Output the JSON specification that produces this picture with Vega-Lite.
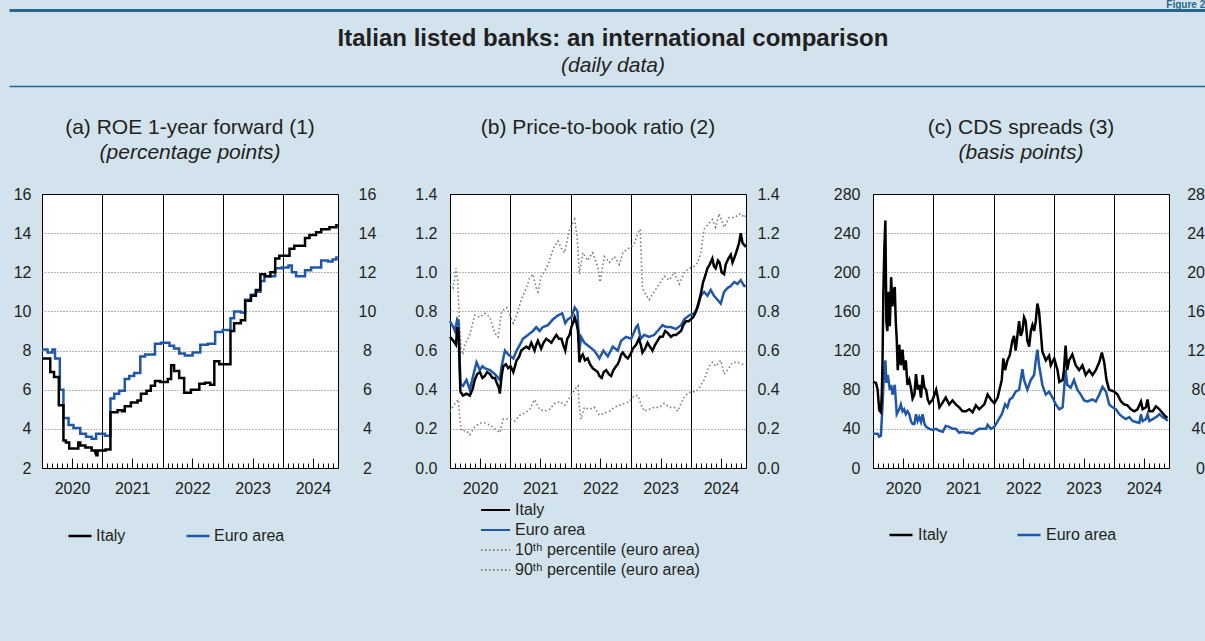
{
"$schema": "https://vega.github.io/schema/vega-lite/v6.json",
"background": "#d2e3ee",
"padding": {"left": 9, "top": 0, "right": 0, "bottom": 80},
"config": {
  "font": "Liberation Sans",
  "view": {"stroke": null},
  "axis": {"labelFont": "Liberation Sans", "labelFontSize": 16, "labelColor": "#231f20", "domain": false, "ticks": false, "grid": false},
  "legend": {"labelFont": "Liberation Sans", "labelFontSize": 16, "labelColor": "#231f20", "labelLimit": 400},
  "title": {"font": "Liberation Sans", "fontSize": 21, "fontWeight": "normal", "color": "#231f20", "subtitleFont": "Liberation Sans", "subtitleFontSize": 21, "subtitleFontStyle": "italic", "subtitleColor": "#231f20", "subtitlePadding": 4, "offset": 23, "anchor": "middle", "frame": "group"}
},
"datasets": {
"a": [
{"d":"2020-01-01","s":"Italy","v":7.6},{"d":"2020-02-20","s":"Italy","v":6.9},{"d":"2020-03-14","s":"Italy","v":6.65},{"d":"2020-04-12","s":"Italy","v":5.2},{"d":"2020-05-10","s":"Italy","v":3.4},{"d":"2020-05-25","s":"Italy","v":3.3},{"d":"2020-06-14","s":"Italy","v":3.0},{"d":"2020-08-08","s":"Italy","v":3.3},{"d":"2020-08-20","s":"Italy","v":3.15},{"d":"2020-09-20","s":"Italy","v":3.05},{"d":"2020-10-28","s":"Italy","v":2.9},{"d":"2020-11-20","s":"Italy","v":2.75},{"d":"2020-11-26","s":"Italy","v":2.65},{"d":"2020-12-03","s":"Italy","v":2.9},{"d":"2021-01-20","s":"Italy","v":2.95},{"d":"2021-02-19","s":"Italy","v":4.85},{"d":"2021-04-03","s":"Italy","v":4.95},{"d":"2021-05-01","s":"Italy","v":4.9},{"d":"2021-05-17","s":"Italy","v":5.15},{"d":"2021-06-23","s":"Italy","v":5.35},{"d":"2021-08-02","s":"Italy","v":5.45},{"d":"2021-08-23","s":"Italy","v":5.8},{"d":"2021-09-26","s":"Italy","v":5.95},{"d":"2021-10-22","s":"Italy","v":6.2},{"d":"2021-11-16","s":"Italy","v":6.45},{"d":"2021-12-18","s":"Italy","v":6.4},{"d":"2022-02-02","s":"Italy","v":6.55},{"d":"2022-02-22","s":"Italy","v":7.25},{"d":"2022-03-12","s":"Italy","v":6.95},{"d":"2022-04-12","s":"Italy","v":6.6},{"d":"2022-05-12","s":"Italy","v":5.85},{"d":"2022-06-22","s":"Italy","v":6.0},{"d":"2022-08-12","s":"Italy","v":6.3},{"d":"2022-09-15","s":"Italy","v":6.35},{"d":"2022-10-17","s":"Italy","v":6.25},{"d":"2022-11-11","s":"Italy","v":7.45},{"d":"2022-12-11","s":"Italy","v":7.3},{"d":"2023-02-17","s":"Italy","v":9.0},{"d":"2023-03-11","s":"Italy","v":9.4},{"d":"2023-04-21","s":"Italy","v":9.55},{"d":"2023-05-17","s":"Italy","v":10.55},{"d":"2023-06-21","s":"Italy","v":10.8},{"d":"2023-07-21","s":"Italy","v":11.1},{"d":"2023-08-17","s":"Italy","v":11.9},{"d":"2023-09-15","s":"Italy","v":11.8},{"d":"2023-10-17","s":"Italy","v":12.0},{"d":"2023-11-15","s":"Italy","v":12.7},{"d":"2023-12-10","s":"Italy","v":12.85},{"d":"2024-02-10","s":"Italy","v":13.2},{"d":"2024-03-10","s":"Italy","v":13.35},{"d":"2024-05-14","s":"Italy","v":13.75},{"d":"2024-06-10","s":"Italy","v":13.9},{"d":"2024-07-20","s":"Italy","v":14.05},{"d":"2024-08-20","s":"Italy","v":14.2},{"d":"2024-10-09","s":"Italy","v":14.3},{"d":"2024-11-20","s":"Italy","v":14.4},{"d":"2024-11-29","s":"Italy","v":14.4},
{"d":"2020-01-01","s":"Euro area","v":8.05},{"d":"2020-02-04","s":"Euro area","v":7.9},{"d":"2020-03-04","s":"Euro area","v":8.05},{"d":"2020-03-20","s":"Euro area","v":7.6},{"d":"2020-04-18","s":"Euro area","v":6.0},{"d":"2020-05-10","s":"Euro area","v":4.55},{"d":"2020-06-10","s":"Euro area","v":4.2},{"d":"2020-07-10","s":"Euro area","v":4.05},{"d":"2020-08-20","s":"Euro area","v":3.75},{"d":"2020-09-24","s":"Euro area","v":3.6},{"d":"2020-10-28","s":"Euro area","v":3.5},{"d":"2020-11-24","s":"Euro area","v":3.75},{"d":"2021-01-17","s":"Euro area","v":3.65},{"d":"2021-02-19","s":"Euro area","v":5.55},{"d":"2021-03-14","s":"Euro area","v":5.8},{"d":"2021-04-13","s":"Euro area","v":5.95},{"d":"2021-05-17","s":"Euro area","v":6.55},{"d":"2021-06-13","s":"Euro area","v":6.7},{"d":"2021-07-13","s":"Euro area","v":6.85},{"d":"2021-08-19","s":"Euro area","v":7.7},{"d":"2021-09-17","s":"Euro area","v":7.8},{"d":"2021-11-16","s":"Euro area","v":8.35},{"d":"2021-12-23","s":"Euro area","v":8.4},{"d":"2022-02-12","s":"Euro area","v":8.25},{"d":"2022-03-12","s":"Euro area","v":8.1},{"d":"2022-04-12","s":"Euro area","v":7.85},{"d":"2022-05-16","s":"Euro area","v":7.75},{"d":"2022-07-02","s":"Euro area","v":7.9},{"d":"2022-08-18","s":"Euro area","v":8.3},{"d":"2022-10-02","s":"Euro area","v":8.35},{"d":"2022-11-16","s":"Euro area","v":8.95},{"d":"2023-01-01","s":"Euro area","v":9.05},{"d":"2023-02-17","s":"Euro area","v":9.65},{"d":"2023-03-11","s":"Euro area","v":10.0},{"d":"2023-04-21","s":"Euro area","v":9.95},{"d":"2023-05-17","s":"Euro area","v":10.6},{"d":"2023-06-21","s":"Euro area","v":10.85},{"d":"2023-07-21","s":"Euro area","v":11.0},{"d":"2023-08-17","s":"Euro area","v":11.55},{"d":"2023-09-11","s":"Euro area","v":11.8},{"d":"2023-11-15","s":"Euro area","v":12.2},{"d":"2023-12-25","s":"Euro area","v":12.25},{"d":"2024-02-04","s":"Euro area","v":12.35},{"d":"2024-02-24","s":"Euro area","v":12.0},{"d":"2024-03-21","s":"Euro area","v":11.8},{"d":"2024-05-14","s":"Euro area","v":12.1},{"d":"2024-06-20","s":"Euro area","v":12.25},{"d":"2024-08-20","s":"Euro area","v":12.6},{"d":"2024-09-30","s":"Euro area","v":12.55},{"d":"2024-10-28","s":"Euro area","v":12.65},{"d":"2024-11-20","s":"Euro area","v":12.75},{"d":"2024-11-29","s":"Euro area","v":12.75}
],
"b": [
{"d":"2020-01-01","s":"Italy","v":0.67},{"d":"2020-01-21","s":"Italy","v":0.65},{"d":"2020-02-06","s":"Italy","v":0.63},{"d":"2020-02-14","s":"Italy","v":0.72},{"d":"2020-02-22","s":"Italy","v":0.70},{"d":"2020-03-04","s":"Italy","v":0.39},{"d":"2020-03-20","s":"Italy","v":0.37},{"d":"2020-04-10","s":"Italy","v":0.38},{"d":"2020-04-30","s":"Italy","v":0.37},{"d":"2020-05-16","s":"Italy","v":0.40},{"d":"2020-05-30","s":"Italy","v":0.45},{"d":"2020-06-14","s":"Italy","v":0.48},{"d":"2020-06-30","s":"Italy","v":0.49},{"d":"2020-07-16","s":"Italy","v":0.46},{"d":"2020-07-30","s":"Italy","v":0.47},{"d":"2020-08-13","s":"Italy","v":0.49},{"d":"2020-08-30","s":"Italy","v":0.48},{"d":"2020-09-15","s":"Italy","v":0.46},{"d":"2020-09-29","s":"Italy","v":0.46},{"d":"2020-10-13","s":"Italy","v":0.43},{"d":"2020-10-23","s":"Italy","v":0.41},{"d":"2020-10-29","s":"Italy","v":0.38},{"d":"2020-11-09","s":"Italy","v":0.47},{"d":"2020-11-19","s":"Italy","v":0.52},{"d":"2020-12-05","s":"Italy","v":0.53},{"d":"2020-12-19","s":"Italy","v":0.51},{"d":"2021-01-02","s":"Italy","v":0.52},{"d":"2021-01-19","s":"Italy","v":0.49},{"d":"2021-01-29","s":"Italy","v":0.52},{"d":"2021-02-08","s":"Italy","v":0.55},{"d":"2021-02-24","s":"Italy","v":0.57},{"d":"2021-03-08","s":"Italy","v":0.60},{"d":"2021-03-22","s":"Italy","v":0.61},{"d":"2021-04-08","s":"Italy","v":0.62},{"d":"2021-04-24","s":"Italy","v":0.61},{"d":"2021-05-08","s":"Italy","v":0.64},{"d":"2021-05-18","s":"Italy","v":0.62},{"d":"2021-05-28","s":"Italy","v":0.60},{"d":"2021-06-07","s":"Italy","v":0.63},{"d":"2021-06-17","s":"Italy","v":0.65},{"d":"2021-06-27","s":"Italy","v":0.63},{"d":"2021-07-07","s":"Italy","v":0.61},{"d":"2021-07-21","s":"Italy","v":0.64},{"d":"2021-08-07","s":"Italy","v":0.66},{"d":"2021-08-23","s":"Italy","v":0.65},{"d":"2021-09-07","s":"Italy","v":0.64},{"d":"2021-09-21","s":"Italy","v":0.66},{"d":"2021-10-07","s":"Italy","v":0.68},{"d":"2021-10-23","s":"Italy","v":0.66},{"d":"2021-11-07","s":"Italy","v":0.66},{"d":"2021-11-17","s":"Italy","v":0.63},{"d":"2021-11-30","s":"Italy","v":0.60},{"d":"2021-12-12","s":"Italy","v":0.66},{"d":"2021-12-26","s":"Italy","v":0.68},{"d":"2022-01-06","s":"Italy","v":0.72},{"d":"2022-01-16","s":"Italy","v":0.74},{"d":"2022-01-26","s":"Italy","v":0.77},{"d":"2022-02-06","s":"Italy","v":0.74},{"d":"2022-02-15","s":"Italy","v":0.70},{"d":"2022-02-24","s":"Italy","v":0.54},{"d":"2022-03-06","s":"Italy","v":0.57},{"d":"2022-03-16","s":"Italy","v":0.58},{"d":"2022-03-30","s":"Italy","v":0.55},{"d":"2022-04-15","s":"Italy","v":0.56},{"d":"2022-04-29","s":"Italy","v":0.53},{"d":"2022-05-15","s":"Italy","v":0.51},{"d":"2022-05-31","s":"Italy","v":0.50},{"d":"2022-06-15","s":"Italy","v":0.49},{"d":"2022-06-25","s":"Italy","v":0.47},{"d":"2022-07-09","s":"Italy","v":0.46},{"d":"2022-07-21","s":"Italy","v":0.49},{"d":"2022-08-05","s":"Italy","v":0.50},{"d":"2022-08-21","s":"Italy","v":0.48},{"d":"2022-09-04","s":"Italy","v":0.47},{"d":"2022-09-18","s":"Italy","v":0.50},{"d":"2022-10-04","s":"Italy","v":0.52},{"d":"2022-10-14","s":"Italy","v":0.53},{"d":"2022-10-24","s":"Italy","v":0.55},{"d":"2022-11-04","s":"Italy","v":0.58},{"d":"2022-11-14","s":"Italy","v":0.59},{"d":"2022-11-30","s":"Italy","v":0.57},{"d":"2022-12-14","s":"Italy","v":0.56},{"d":"2022-12-30","s":"Italy","v":0.58},{"d":"2023-01-14","s":"Italy","v":0.61},{"d":"2023-02-03","s":"Italy","v":0.63},{"d":"2023-02-19","s":"Italy","v":0.66},{"d":"2023-03-03","s":"Italy","v":0.63},{"d":"2023-03-13","s":"Italy","v":0.59},{"d":"2023-03-29","s":"Italy","v":0.61},{"d":"2023-04-13","s":"Italy","v":0.64},{"d":"2023-04-27","s":"Italy","v":0.62},{"d":"2023-05-13","s":"Italy","v":0.60},{"d":"2023-05-29","s":"Italy","v":0.63},{"d":"2023-06-13","s":"Italy","v":0.65},{"d":"2023-06-27","s":"Italy","v":0.67},{"d":"2023-07-13","s":"Italy","v":0.67},{"d":"2023-07-29","s":"Italy","v":0.70},{"d":"2023-08-13","s":"Italy","v":0.69},{"d":"2023-09-02","s":"Italy","v":0.67},{"d":"2023-09-16","s":"Italy","v":0.68},{"d":"2023-10-02","s":"Italy","v":0.68},{"d":"2023-10-18","s":"Italy","v":0.69},{"d":"2023-11-02","s":"Italy","v":0.70},{"d":"2023-11-16","s":"Italy","v":0.73},{"d":"2023-12-02","s":"Italy","v":0.75},{"d":"2023-12-18","s":"Italy","v":0.75},{"d":"2024-01-01","s":"Italy","v":0.76},{"d":"2024-01-15","s":"Italy","v":0.77},{"d":"2024-02-01","s":"Italy","v":0.80},{"d":"2024-02-15","s":"Italy","v":0.84},{"d":"2024-03-01","s":"Italy","v":0.89},{"d":"2024-03-15","s":"Italy","v":0.95},{"d":"2024-03-27","s":"Italy","v":0.98},{"d":"2024-04-10","s":"Italy","v":1.02},{"d":"2024-04-24","s":"Italy","v":1.04},{"d":"2024-05-10","s":"Italy","v":1.07},{"d":"2024-05-20","s":"Italy","v":1.03},{"d":"2024-05-30","s":"Italy","v":1.02},{"d":"2024-06-13","s":"Italy","v":1.06},{"d":"2024-06-23","s":"Italy","v":1.05},{"d":"2024-07-05","s":"Italy","v":1.00},{"d":"2024-07-20","s":"Italy","v":0.99},{"d":"2024-07-30","s":"Italy","v":1.04},{"d":"2024-08-15","s":"Italy","v":1.07},{"d":"2024-08-30","s":"Italy","v":1.09},{"d":"2024-09-09","s":"Italy","v":1.05},{"d":"2024-09-23","s":"Italy","v":1.08},{"d":"2024-10-05","s":"Italy","v":1.11},{"d":"2024-10-19","s":"Italy","v":1.15},{"d":"2024-10-29","s":"Italy","v":1.20},{"d":"2024-11-09","s":"Italy","v":1.15},{"d":"2024-11-19","s":"Italy","v":1.14},{"d":"2024-11-29","s":"Italy","v":1.13},
{"d":"2020-01-01","s":"Euro area","v":0.75},{"d":"2020-01-21","s":"Euro area","v":0.72},{"d":"2020-01-31","s":"Euro area","v":0.70},{"d":"2020-02-14","s":"Euro area","v":0.76},{"d":"2020-02-22","s":"Euro area","v":0.75},{"d":"2020-03-04","s":"Euro area","v":0.43},{"d":"2020-03-20","s":"Euro area","v":0.42},{"d":"2020-04-10","s":"Euro area","v":0.45},{"d":"2020-04-30","s":"Euro area","v":0.40},{"d":"2020-05-20","s":"Euro area","v":0.47},{"d":"2020-06-10","s":"Euro area","v":0.54},{"d":"2020-06-30","s":"Euro area","v":0.50},{"d":"2020-07-16","s":"Euro area","v":0.52},{"d":"2020-07-30","s":"Euro area","v":0.51},{"d":"2020-08-30","s":"Euro area","v":0.50},{"d":"2020-09-29","s":"Euro area","v":0.48},{"d":"2020-10-19","s":"Euro area","v":0.46},{"d":"2020-10-29","s":"Euro area","v":0.45},{"d":"2020-11-09","s":"Euro area","v":0.52},{"d":"2020-11-29","s":"Euro area","v":0.60},{"d":"2020-12-19","s":"Euro area","v":0.58},{"d":"2021-01-19","s":"Euro area","v":0.56},{"d":"2021-02-08","s":"Euro area","v":0.60},{"d":"2021-02-28","s":"Euro area","v":0.63},{"d":"2021-03-18","s":"Euro area","v":0.66},{"d":"2021-04-18","s":"Euro area","v":0.68},{"d":"2021-05-18","s":"Euro area","v":0.70},{"d":"2021-06-07","s":"Euro area","v":0.72},{"d":"2021-06-27","s":"Euro area","v":0.70},{"d":"2021-07-17","s":"Euro area","v":0.72},{"d":"2021-08-17","s":"Euro area","v":0.73},{"d":"2021-09-17","s":"Euro area","v":0.76},{"d":"2021-10-17","s":"Euro area","v":0.78},{"d":"2021-11-12","s":"Euro area","v":0.79},{"d":"2021-11-30","s":"Euro area","v":0.74},{"d":"2021-12-16","s":"Euro area","v":0.76},{"d":"2022-01-06","s":"Euro area","v":0.77},{"d":"2022-01-26","s":"Euro area","v":0.82},{"d":"2022-02-12","s":"Euro area","v":0.80},{"d":"2022-02-24","s":"Euro area","v":0.60},{"d":"2022-03-06","s":"Euro area","v":0.67},{"d":"2022-03-26","s":"Euro area","v":0.64},{"d":"2022-04-25","s":"Euro area","v":0.62},{"d":"2022-05-25","s":"Euro area","v":0.60},{"d":"2022-06-25","s":"Euro area","v":0.56},{"d":"2022-07-19","s":"Euro area","v":0.60},{"d":"2022-08-15","s":"Euro area","v":0.57},{"d":"2022-09-14","s":"Euro area","v":0.62},{"d":"2022-10-14","s":"Euro area","v":0.60},{"d":"2022-11-04","s":"Euro area","v":0.65},{"d":"2022-12-04","s":"Euro area","v":0.67},{"d":"2023-01-04","s":"Euro area","v":0.66},{"d":"2023-02-03","s":"Euro area","v":0.72},{"d":"2023-02-13","s":"Euro area","v":0.73},{"d":"2023-03-03","s":"Euro area","v":0.66},{"d":"2023-03-23","s":"Euro area","v":0.68},{"d":"2023-04-23","s":"Euro area","v":0.67},{"d":"2023-05-23","s":"Euro area","v":0.68},{"d":"2023-06-13","s":"Euro area","v":0.70},{"d":"2023-07-13","s":"Euro area","v":0.73},{"d":"2023-08-03","s":"Euro area","v":0.72},{"d":"2023-09-02","s":"Euro area","v":0.72},{"d":"2023-10-02","s":"Euro area","v":0.71},{"d":"2023-11-02","s":"Euro area","v":0.73},{"d":"2023-11-22","s":"Euro area","v":0.76},{"d":"2023-12-22","s":"Euro area","v":0.78},{"d":"2024-01-21","s":"Euro area","v":0.79},{"d":"2024-02-11","s":"Euro area","v":0.82},{"d":"2024-03-01","s":"Euro area","v":0.88},{"d":"2024-03-21","s":"Euro area","v":0.90},{"d":"2024-04-10","s":"Euro area","v":0.88},{"d":"2024-04-30","s":"Euro area","v":0.91},{"d":"2024-05-20","s":"Euro area","v":0.88},{"d":"2024-06-10","s":"Euro area","v":0.86},{"d":"2024-06-30","s":"Euro area","v":0.84},{"d":"2024-07-20","s":"Euro area","v":0.90},{"d":"2024-08-10","s":"Euro area","v":0.92},{"d":"2024-08-30","s":"Euro area","v":0.93},{"d":"2024-09-19","s":"Euro area","v":0.95},{"d":"2024-10-09","s":"Euro area","v":0.94},{"d":"2024-10-29","s":"Euro area","v":0.96},{"d":"2024-11-19","s":"Euro area","v":0.93},{"d":"2024-11-29","s":"Euro area","v":0.93},
{"d":"2020-01-01","s":"90ᵗʰ percentile (euro area)","v":0.94},{"d":"2020-01-21","s":"90ᵗʰ percentile (euro area)","v":0.92},{"d":"2020-02-06","s":"90ᵗʰ percentile (euro area)","v":1.02},{"d":"2020-02-16","s":"90ᵗʰ percentile (euro area)","v":0.96},{"d":"2020-03-01","s":"90ᵗʰ percentile (euro area)","v":0.70},{"d":"2020-03-10","s":"90ᵗʰ percentile (euro area)","v":0.60},{"d":"2020-03-20","s":"90ᵗʰ percentile (euro area)","v":0.58},{"d":"2020-03-30","s":"90ᵗʰ percentile (euro area)","v":0.63},{"d":"2020-04-30","s":"90ᵗʰ percentile (euro area)","v":0.68},{"d":"2020-05-30","s":"90ᵗʰ percentile (euro area)","v":0.78},{"d":"2020-06-30","s":"90ᵗʰ percentile (euro area)","v":0.77},{"d":"2020-07-30","s":"90ᵗʰ percentile (euro area)","v":0.79},{"d":"2020-08-30","s":"90ᵗʰ percentile (euro area)","v":0.77},{"d":"2020-09-29","s":"90ᵗʰ percentile (euro area)","v":0.69},{"d":"2020-10-19","s":"90ᵗʰ percentile (euro area)","v":0.67},{"d":"2020-11-09","s":"90ᵗʰ percentile (euro area)","v":0.80},{"d":"2020-12-09","s":"90ᵗʰ percentile (euro area)","v":0.82},{"d":"2020-12-29","s":"90ᵗʰ percentile (euro area)","v":0.78},{"d":"2021-01-19","s":"90ᵗʰ percentile (euro area)","v":0.74},{"d":"2021-02-08","s":"90ᵗʰ percentile (euro area)","v":0.78},{"d":"2021-03-08","s":"90ᵗʰ percentile (euro area)","v":0.86},{"d":"2021-04-08","s":"90ᵗʰ percentile (euro area)","v":0.92},{"d":"2021-04-28","s":"90ᵗʰ percentile (euro area)","v":0.97},{"d":"2021-05-18","s":"90ᵗʰ percentile (euro area)","v":0.99},{"d":"2021-06-07","s":"90ᵗʰ percentile (euro area)","v":0.92},{"d":"2021-06-17","s":"90ᵗʰ percentile (euro area)","v":0.90},{"d":"2021-07-07","s":"90ᵗʰ percentile (euro area)","v":0.98},{"d":"2021-08-07","s":"90ᵗʰ percentile (euro area)","v":1.02},{"d":"2021-08-27","s":"90ᵗʰ percentile (euro area)","v":1.06},{"d":"2021-09-17","s":"90ᵗʰ percentile (euro area)","v":1.12},{"d":"2021-10-17","s":"90ᵗʰ percentile (euro area)","v":1.16},{"d":"2021-11-07","s":"90ᵗʰ percentile (euro area)","v":1.12},{"d":"2021-11-26","s":"90ᵗʰ percentile (euro area)","v":1.10},{"d":"2021-12-26","s":"90ᵗʰ percentile (euro area)","v":1.22},{"d":"2022-01-26","s":"90ᵗʰ percentile (euro area)","v":1.27},{"d":"2022-02-10","s":"90ᵗʰ percentile (euro area)","v":1.18},{"d":"2022-02-24","s":"90ᵗʰ percentile (euro area)","v":0.99},{"d":"2022-03-16","s":"90ᵗʰ percentile (euro area)","v":1.10},{"d":"2022-04-15","s":"90ᵗʰ percentile (euro area)","v":1.06},{"d":"2022-05-15","s":"90ᵗʰ percentile (euro area)","v":1.10},{"d":"2022-06-15","s":"90ᵗʰ percentile (euro area)","v":1.03},{"d":"2022-06-29","s":"90ᵗʰ percentile (euro area)","v":0.95},{"d":"2022-07-25","s":"90ᵗʰ percentile (euro area)","v":1.08},{"d":"2022-08-25","s":"90ᵗʰ percentile (euro area)","v":1.05},{"d":"2022-09-24","s":"90ᵗʰ percentile (euro area)","v":1.08},{"d":"2022-10-24","s":"90ᵗʰ percentile (euro area)","v":1.04},{"d":"2022-11-14","s":"90ᵗʰ percentile (euro area)","v":1.10},{"d":"2022-12-14","s":"90ᵗʰ percentile (euro area)","v":1.12},{"d":"2023-01-04","s":"90ᵗʰ percentile (euro area)","v":1.13},{"d":"2023-01-24","s":"90ᵗʰ percentile (euro area)","v":1.15},{"d":"2023-02-13","s":"90ᵗʰ percentile (euro area)","v":1.20},{"d":"2023-02-28","s":"90ᵗʰ percentile (euro area)","v":1.22},{"d":"2023-03-13","s":"90ᵗʰ percentile (euro area)","v":0.92},{"d":"2023-03-23","s":"90ᵗʰ percentile (euro area)","v":0.90},{"d":"2023-04-23","s":"90ᵗʰ percentile (euro area)","v":0.86},{"d":"2023-05-23","s":"90ᵗʰ percentile (euro area)","v":0.90},{"d":"2023-06-23","s":"90ᵗʰ percentile (euro area)","v":0.94},{"d":"2023-07-23","s":"90ᵗʰ percentile (euro area)","v":0.98},{"d":"2023-08-23","s":"90ᵗʰ percentile (euro area)","v":0.96},{"d":"2023-09-22","s":"90ᵗʰ percentile (euro area)","v":1.00},{"d":"2023-10-22","s":"90ᵗʰ percentile (euro area)","v":0.94},{"d":"2023-11-22","s":"90ᵗʰ percentile (euro area)","v":1.00},{"d":"2023-12-22","s":"90ᵗʰ percentile (euro area)","v":1.02},{"d":"2024-01-21","s":"90ᵗʰ percentile (euro area)","v":1.03},{"d":"2024-02-11","s":"90ᵗʰ percentile (euro area)","v":1.05},{"d":"2024-03-01","s":"90ᵗʰ percentile (euro area)","v":1.10},{"d":"2024-03-21","s":"90ᵗʰ percentile (euro area)","v":1.22},{"d":"2024-04-20","s":"90ᵗʰ percentile (euro area)","v":1.25},{"d":"2024-05-10","s":"90ᵗʰ percentile (euro area)","v":1.27},{"d":"2024-05-30","s":"90ᵗʰ percentile (euro area)","v":1.23},{"d":"2024-06-20","s":"90ᵗʰ percentile (euro area)","v":1.30},{"d":"2024-07-20","s":"90ᵗʰ percentile (euro area)","v":1.23},{"d":"2024-08-20","s":"90ᵗʰ percentile (euro area)","v":1.28},{"d":"2024-09-19","s":"90ᵗʰ percentile (euro area)","v":1.28},{"d":"2024-10-29","s":"90ᵗʰ percentile (euro area)","v":1.30},{"d":"2024-11-19","s":"90ᵗʰ percentile (euro area)","v":1.28},{"d":"2024-11-29","s":"90ᵗʰ percentile (euro area)","v":1.29},
{"d":"2020-01-01","s":"10ᵗʰ percentile (euro area)","v":0.29},{"d":"2020-01-31","s":"10ᵗʰ percentile (euro area)","v":0.33},{"d":"2020-02-20","s":"10ᵗʰ percentile (euro area)","v":0.35},{"d":"2020-03-01","s":"10ᵗʰ percentile (euro area)","v":0.25},{"d":"2020-03-10","s":"10ᵗʰ percentile (euro area)","v":0.19},{"d":"2020-04-10","s":"10ᵗʰ percentile (euro area)","v":0.19},{"d":"2020-04-30","s":"10ᵗʰ percentile (euro area)","v":0.17},{"d":"2020-05-30","s":"10ᵗʰ percentile (euro area)","v":0.21},{"d":"2020-06-30","s":"10ᵗʰ percentile (euro area)","v":0.23},{"d":"2020-07-30","s":"10ᵗʰ percentile (euro area)","v":0.23},{"d":"2020-08-30","s":"10ᵗʰ percentile (euro area)","v":0.22},{"d":"2020-09-29","s":"10ᵗʰ percentile (euro area)","v":0.20},{"d":"2020-10-29","s":"10ᵗʰ percentile (euro area)","v":0.18},{"d":"2020-11-19","s":"10ᵗʰ percentile (euro area)","v":0.25},{"d":"2020-12-29","s":"10ᵗʰ percentile (euro area)","v":0.25},{"d":"2021-01-29","s":"10ᵗʰ percentile (euro area)","v":0.24},{"d":"2021-02-28","s":"10ᵗʰ percentile (euro area)","v":0.27},{"d":"2021-03-28","s":"10ᵗʰ percentile (euro area)","v":0.28},{"d":"2021-04-28","s":"10ᵗʰ percentile (euro area)","v":0.30},{"d":"2021-05-28","s":"10ᵗʰ percentile (euro area)","v":0.35},{"d":"2021-06-27","s":"10ᵗʰ percentile (euro area)","v":0.30},{"d":"2021-07-27","s":"10ᵗʰ percentile (euro area)","v":0.29},{"d":"2021-08-27","s":"10ᵗʰ percentile (euro area)","v":0.30},{"d":"2021-09-27","s":"10ᵗʰ percentile (euro area)","v":0.33},{"d":"2021-10-27","s":"10ᵗʰ percentile (euro area)","v":0.34},{"d":"2021-11-26","s":"10ᵗʰ percentile (euro area)","v":0.32},{"d":"2021-12-26","s":"10ᵗʰ percentile (euro area)","v":0.36},{"d":"2022-01-26","s":"10ᵗʰ percentile (euro area)","v":0.40},{"d":"2022-02-15","s":"10ᵗʰ percentile (euro area)","v":0.42},{"d":"2022-02-24","s":"10ᵗʰ percentile (euro area)","v":0.30},{"d":"2022-03-06","s":"10ᵗʰ percentile (euro area)","v":0.25},{"d":"2022-03-26","s":"10ᵗʰ percentile (euro area)","v":0.31},{"d":"2022-04-25","s":"10ᵗʰ percentile (euro area)","v":0.30},{"d":"2022-05-25","s":"10ᵗʰ percentile (euro area)","v":0.31},{"d":"2022-06-25","s":"10ᵗʰ percentile (euro area)","v":0.27},{"d":"2022-07-25","s":"10ᵗʰ percentile (euro area)","v":0.28},{"d":"2022-08-25","s":"10ᵗʰ percentile (euro area)","v":0.29},{"d":"2022-09-24","s":"10ᵗʰ percentile (euro area)","v":0.31},{"d":"2022-10-24","s":"10ᵗʰ percentile (euro area)","v":0.32},{"d":"2022-11-24","s":"10ᵗʰ percentile (euro area)","v":0.33},{"d":"2022-12-24","s":"10ᵗʰ percentile (euro area)","v":0.34},{"d":"2023-01-24","s":"10ᵗʰ percentile (euro area)","v":0.37},{"d":"2023-02-13","s":"10ᵗʰ percentile (euro area)","v":0.37},{"d":"2023-03-03","s":"10ᵗʰ percentile (euro area)","v":0.33},{"d":"2023-03-23","s":"10ᵗʰ percentile (euro area)","v":0.29},{"d":"2023-04-23","s":"10ᵗʰ percentile (euro area)","v":0.30},{"d":"2023-05-23","s":"10ᵗʰ percentile (euro area)","v":0.31},{"d":"2023-06-23","s":"10ᵗʰ percentile (euro area)","v":0.31},{"d":"2023-07-23","s":"10ᵗʰ percentile (euro area)","v":0.33},{"d":"2023-08-23","s":"10ᵗʰ percentile (euro area)","v":0.31},{"d":"2023-09-22","s":"10ᵗʰ percentile (euro area)","v":0.31},{"d":"2023-10-12","s":"10ᵗʰ percentile (euro area)","v":0.29},{"d":"2023-11-02","s":"10ᵗʰ percentile (euro area)","v":0.33},{"d":"2023-11-27","s":"10ᵗʰ percentile (euro area)","v":0.37},{"d":"2024-01-01","s":"10ᵗʰ percentile (euro area)","v":0.39},{"d":"2024-01-31","s":"10ᵗʰ percentile (euro area)","v":0.39},{"d":"2024-02-21","s":"10ᵗʰ percentile (euro area)","v":0.41},{"d":"2024-03-21","s":"10ᵗʰ percentile (euro area)","v":0.45},{"d":"2024-04-20","s":"10ᵗʰ percentile (euro area)","v":0.52},{"d":"2024-05-10","s":"10ᵗʰ percentile (euro area)","v":0.54},{"d":"2024-05-30","s":"10ᵗʰ percentile (euro area)","v":0.52},{"d":"2024-06-30","s":"10ᵗʰ percentile (euro area)","v":0.55},{"d":"2024-07-20","s":"10ᵗʰ percentile (euro area)","v":0.48},{"d":"2024-08-10","s":"10ᵗʰ percentile (euro area)","v":0.50},{"d":"2024-09-09","s":"10ᵗʰ percentile (euro area)","v":0.54},{"d":"2024-10-09","s":"10ᵗʰ percentile (euro area)","v":0.54},{"d":"2024-11-09","s":"10ᵗʰ percentile (euro area)","v":0.53},{"d":"2024-11-29","s":"10ᵗʰ percentile (euro area)","v":0.53}
],
"c": [
{"d":"2020-01-01","s":"Italy","v":88},{"d":"2020-01-19","s":"Italy","v":87},{"d":"2020-01-29","s":"Italy","v":80},{"d":"2020-02-08","s":"Italy","v":59},{"d":"2020-02-18","s":"Italy","v":57},{"d":"2020-02-24","s":"Italy","v":78},{"d":"2020-02-28","s":"Italy","v":112},{"d":"2020-03-04","s":"Italy","v":181},{"d":"2020-03-10","s":"Italy","v":225},{"d":"2020-03-16","s":"Italy","v":253},{"d":"2020-03-22","s":"Italy","v":150},{"d":"2020-03-28","s":"Italy","v":140},{"d":"2020-04-04","s":"Italy","v":180},{"d":"2020-04-12","s":"Italy","v":145},{"d":"2020-04-20","s":"Italy","v":195},{"d":"2020-04-28","s":"Italy","v":165},{"d":"2020-05-04","s":"Italy","v":180},{"d":"2020-05-12","s":"Italy","v":185},{"d":"2020-05-18","s":"Italy","v":150},{"d":"2020-05-24","s":"Italy","v":131},{"d":"2020-05-30","s":"Italy","v":100},{"d":"2020-06-08","s":"Italy","v":126},{"d":"2020-06-18","s":"Italy","v":105},{"d":"2020-06-28","s":"Italy","v":121},{"d":"2020-07-08","s":"Italy","v":100},{"d":"2020-07-18","s":"Italy","v":110},{"d":"2020-07-28","s":"Italy","v":85},{"d":"2020-08-08","s":"Italy","v":90},{"d":"2020-08-18","s":"Italy","v":82},{"d":"2020-08-28","s":"Italy","v":71},{"d":"2020-09-08","s":"Italy","v":75},{"d":"2020-09-18","s":"Italy","v":96},{"d":"2020-09-28","s":"Italy","v":80},{"d":"2020-10-08","s":"Italy","v":85},{"d":"2020-10-18","s":"Italy","v":72},{"d":"2020-10-28","s":"Italy","v":95},{"d":"2020-11-08","s":"Italy","v":82},{"d":"2020-11-18","s":"Italy","v":80},{"d":"2020-11-28","s":"Italy","v":70},{"d":"2020-12-08","s":"Italy","v":66},{"d":"2020-12-28","s":"Italy","v":70},{"d":"2021-01-18","s":"Italy","v":80},{"d":"2021-01-28","s":"Italy","v":72},{"d":"2021-02-07","s":"Italy","v":62},{"d":"2021-02-27","s":"Italy","v":67},{"d":"2021-03-17","s":"Italy","v":72},{"d":"2021-04-07","s":"Italy","v":65},{"d":"2021-04-27","s":"Italy","v":69},{"d":"2021-05-17","s":"Italy","v":65},{"d":"2021-06-07","s":"Italy","v":62},{"d":"2021-06-27","s":"Italy","v":58},{"d":"2021-07-17","s":"Italy","v":58},{"d":"2021-08-07","s":"Italy","v":60},{"d":"2021-08-27","s":"Italy","v":57},{"d":"2021-09-16","s":"Italy","v":64},{"d":"2021-10-06","s":"Italy","v":60},{"d":"2021-11-06","s":"Italy","v":65},{"d":"2021-11-26","s":"Italy","v":75},{"d":"2021-12-16","s":"Italy","v":70},{"d":"2022-01-06","s":"Italy","v":66},{"d":"2022-01-26","s":"Italy","v":72},{"d":"2022-02-06","s":"Italy","v":80},{"d":"2022-02-20","s":"Italy","v":90},{"d":"2022-03-01","s":"Italy","v":112},{"d":"2022-03-12","s":"Italy","v":100},{"d":"2022-03-26","s":"Italy","v":110},{"d":"2022-04-09","s":"Italy","v":115},{"d":"2022-04-25","s":"Italy","v":130},{"d":"2022-05-05","s":"Italy","v":135},{"d":"2022-05-15","s":"Italy","v":120},{"d":"2022-06-05","s":"Italy","v":150},{"d":"2022-06-15","s":"Italy","v":135},{"d":"2022-06-25","s":"Italy","v":140},{"d":"2022-07-05","s":"Italy","v":154},{"d":"2022-07-15","s":"Italy","v":150},{"d":"2022-07-25","s":"Italy","v":130},{"d":"2022-08-05","s":"Italy","v":124},{"d":"2022-08-15","s":"Italy","v":140},{"d":"2022-08-25","s":"Italy","v":146},{"d":"2022-09-04","s":"Italy","v":140},{"d":"2022-09-14","s":"Italy","v":150},{"d":"2022-09-24","s":"Italy","v":168},{"d":"2022-10-04","s":"Italy","v":160},{"d":"2022-10-14","s":"Italy","v":140},{"d":"2022-10-24","s":"Italy","v":119},{"d":"2022-11-14","s":"Italy","v":110},{"d":"2022-12-04","s":"Italy","v":115},{"d":"2022-12-14","s":"Italy","v":105},{"d":"2023-01-04","s":"Italy","v":112},{"d":"2023-01-24","s":"Italy","v":100},{"d":"2023-02-04","s":"Italy","v":88},{"d":"2023-02-24","s":"Italy","v":90},{"d":"2023-03-04","s":"Italy","v":100},{"d":"2023-03-14","s":"Italy","v":125},{"d":"2023-03-24","s":"Italy","v":100},{"d":"2023-04-04","s":"Italy","v":110},{"d":"2023-04-24","s":"Italy","v":116},{"d":"2023-05-14","s":"Italy","v":105},{"d":"2023-06-04","s":"Italy","v":100},{"d":"2023-06-24","s":"Italy","v":105},{"d":"2023-07-14","s":"Italy","v":95},{"d":"2023-08-04","s":"Italy","v":100},{"d":"2023-08-24","s":"Italy","v":95},{"d":"2023-09-13","s":"Italy","v":100},{"d":"2023-10-04","s":"Italy","v":108},{"d":"2023-10-20","s":"Italy","v":118},{"d":"2023-11-03","s":"Italy","v":108},{"d":"2023-11-17","s":"Italy","v":90},{"d":"2023-12-03","s":"Italy","v":80},{"d":"2024-01-03","s":"Italy","v":78},{"d":"2024-01-23","s":"Italy","v":75},{"d":"2024-02-13","s":"Italy","v":68},{"d":"2024-03-03","s":"Italy","v":65},{"d":"2024-03-23","s":"Italy","v":64},{"d":"2024-04-13","s":"Italy","v":60},{"d":"2024-05-03","s":"Italy","v":58},{"d":"2024-05-23","s":"Italy","v":60},{"d":"2024-06-13","s":"Italy","v":68},{"d":"2024-06-23","s":"Italy","v":60},{"d":"2024-07-13","s":"Italy","v":62},{"d":"2024-07-23","s":"Italy","v":70},{"d":"2024-08-03","s":"Italy","v":58},{"d":"2024-08-23","s":"Italy","v":58},{"d":"2024-09-12","s":"Italy","v":63},{"d":"2024-10-03","s":"Italy","v":60},{"d":"2024-10-23","s":"Italy","v":56},{"d":"2024-11-12","s":"Italy","v":52},{"d":"2024-11-22","s":"Italy","v":52},
{"d":"2020-01-01","s":"Euro area","v":35},{"d":"2020-01-29","s":"Euro area","v":35},{"d":"2020-02-08","s":"Euro area","v":32},{"d":"2020-02-18","s":"Euro area","v":33},{"d":"2020-02-28","s":"Euro area","v":65},{"d":"2020-03-07","s":"Euro area","v":95},{"d":"2020-03-16","s":"Euro area","v":110},{"d":"2020-03-22","s":"Euro area","v":87},{"d":"2020-03-31","s":"Euro area","v":95},{"d":"2020-04-12","s":"Euro area","v":80},{"d":"2020-04-20","s":"Euro area","v":85},{"d":"2020-04-28","s":"Euro area","v":75},{"d":"2020-05-12","s":"Euro area","v":85},{"d":"2020-05-18","s":"Euro area","v":70},{"d":"2020-05-24","s":"Euro area","v":55},{"d":"2020-06-08","s":"Euro area","v":60},{"d":"2020-06-18","s":"Euro area","v":65},{"d":"2020-06-28","s":"Euro area","v":58},{"d":"2020-07-08","s":"Euro area","v":60},{"d":"2020-07-18","s":"Euro area","v":55},{"d":"2020-07-28","s":"Euro area","v":58},{"d":"2020-08-08","s":"Euro area","v":55},{"d":"2020-08-18","s":"Euro area","v":48},{"d":"2020-08-28","s":"Euro area","v":45},{"d":"2020-09-08","s":"Euro area","v":45},{"d":"2020-09-18","s":"Euro area","v":55},{"d":"2020-09-28","s":"Euro area","v":48},{"d":"2020-10-08","s":"Euro area","v":52},{"d":"2020-10-18","s":"Euro area","v":47},{"d":"2020-10-28","s":"Euro area","v":55},{"d":"2020-11-08","s":"Euro area","v":45},{"d":"2020-11-18","s":"Euro area","v":42},{"d":"2020-12-08","s":"Euro area","v":40},{"d":"2020-12-28","s":"Euro area","v":39},{"d":"2021-01-18","s":"Euro area","v":40},{"d":"2021-02-07","s":"Euro area","v":38},{"d":"2021-02-27","s":"Euro area","v":37},{"d":"2021-03-17","s":"Euro area","v":43},{"d":"2021-04-07","s":"Euro area","v":42},{"d":"2021-04-27","s":"Euro area","v":40},{"d":"2021-05-17","s":"Euro area","v":40},{"d":"2021-06-07","s":"Euro area","v":36},{"d":"2021-06-27","s":"Euro area","v":37},{"d":"2021-07-17","s":"Euro area","v":36},{"d":"2021-08-07","s":"Euro area","v":36},{"d":"2021-08-27","s":"Euro area","v":35},{"d":"2021-09-16","s":"Euro area","v":38},{"d":"2021-10-06","s":"Euro area","v":40},{"d":"2021-10-26","s":"Euro area","v":40},{"d":"2021-11-16","s":"Euro area","v":40},{"d":"2021-11-26","s":"Euro area","v":44},{"d":"2021-12-16","s":"Euro area","v":40},{"d":"2022-01-06","s":"Euro area","v":42},{"d":"2022-01-26","s":"Euro area","v":48},{"d":"2022-02-20","s":"Euro area","v":55},{"d":"2022-03-12","s":"Euro area","v":65},{"d":"2022-03-26","s":"Euro area","v":62},{"d":"2022-04-09","s":"Euro area","v":70},{"d":"2022-04-25","s":"Euro area","v":72},{"d":"2022-05-15","s":"Euro area","v":78},{"d":"2022-06-05","s":"Euro area","v":80},{"d":"2022-06-25","s":"Euro area","v":101},{"d":"2022-07-05","s":"Euro area","v":90},{"d":"2022-07-25","s":"Euro area","v":80},{"d":"2022-08-15","s":"Euro area","v":90},{"d":"2022-09-04","s":"Euro area","v":95},{"d":"2022-09-14","s":"Euro area","v":110},{"d":"2022-09-24","s":"Euro area","v":121},{"d":"2022-10-04","s":"Euro area","v":105},{"d":"2022-10-24","s":"Euro area","v":85},{"d":"2022-11-14","s":"Euro area","v":75},{"d":"2022-12-04","s":"Euro area","v":78},{"d":"2022-12-24","s":"Euro area","v":72},{"d":"2023-01-14","s":"Euro area","v":65},{"d":"2023-02-04","s":"Euro area","v":60},{"d":"2023-02-24","s":"Euro area","v":62},{"d":"2023-03-14","s":"Euro area","v":100},{"d":"2023-03-24","s":"Euro area","v":85},{"d":"2023-04-14","s":"Euro area","v":82},{"d":"2023-05-04","s":"Euro area","v":90},{"d":"2023-05-24","s":"Euro area","v":80},{"d":"2023-06-14","s":"Euro area","v":75},{"d":"2023-07-04","s":"Euro area","v":69},{"d":"2023-07-24","s":"Euro area","v":68},{"d":"2023-08-24","s":"Euro area","v":70},{"d":"2023-09-13","s":"Euro area","v":68},{"d":"2023-10-04","s":"Euro area","v":75},{"d":"2023-10-24","s":"Euro area","v":83},{"d":"2023-11-14","s":"Euro area","v":78},{"d":"2023-12-03","s":"Euro area","v":65},{"d":"2023-12-23","s":"Euro area","v":62},{"d":"2024-01-13","s":"Euro area","v":60},{"d":"2024-02-03","s":"Euro area","v":55},{"d":"2024-02-23","s":"Euro area","v":52},{"d":"2024-03-13","s":"Euro area","v":50},{"d":"2024-04-03","s":"Euro area","v":52},{"d":"2024-04-23","s":"Euro area","v":48},{"d":"2024-05-13","s":"Euro area","v":47},{"d":"2024-06-03","s":"Euro area","v":46},{"d":"2024-06-13","s":"Euro area","v":55},{"d":"2024-06-23","s":"Euro area","v":48},{"d":"2024-07-13","s":"Euro area","v":50},{"d":"2024-07-23","s":"Euro area","v":55},{"d":"2024-08-03","s":"Euro area","v":48},{"d":"2024-08-23","s":"Euro area","v":50},{"d":"2024-09-12","s":"Euro area","v":52},{"d":"2024-10-03","s":"Euro area","v":55},{"d":"2024-10-23","s":"Euro area","v":52},{"d":"2024-11-12","s":"Euro area","v":50},{"d":"2024-11-22","s":"Euro area","v":48}
]
},
"columns": 1,
"align": "none",
"spacing": 30,
"concat": [
{
  "width": 1208, "height": 76,
  "data": {"values": [{}]},
  "encoding": {
    "y": {"datum": 0.5, "type": "quantitative", "scale": {"domain": [0, 1]}, "axis": null}
  },
  "layer": [
    {"mark": {"type": "text", "font": "Liberation Sans", "fontSize": 24, "fontWeight": "bold", "color": "#231f20", "dy": -9, "dx": -33},
     "encoding": {"x": {"datum": 0.5, "type": "quantitative", "scale": {"domain": [0, 1]}, "axis": {"orient": "top", "position": -33, "title": null, "labels": false, "ticks": false, "grid": false, "domain": true, "domainColor": "#23688c", "domainWidth": 3}},
                  "text": {"value": "Italian listed banks: an international comparison"}}},
    {"mark": {"type": "text", "font": "Liberation Sans", "fontSize": 21, "fontStyle": "italic", "color": "#231f20", "dy": 18, "dx": -33},
     "encoding": {"x": {"datum": 0.5, "type": "quantitative", "scale": {"domain": [0, 1]}, "axis": {"orient": "bottom", "position": -33, "title": null, "labels": false, "ticks": false, "grid": false, "domain": true, "domainColor": "#23688c", "domainWidth": 1.5}},
                  "text": {"value": "(daily data)"}}},
    {"mark": {"type": "text", "font": "Liberation Sans", "fontSize": 10, "fontWeight": "bold", "color": "#23688c", "align": "right", "baseline": "bottom", "dy": -38, "dx": -42},
     "encoding": {"x": {"datum": 1, "type": "quantitative", "scale": {"domain": [0, 1]}, "axis": null},
                  "text": {"value": "Figure 2."}}}
  ],
  "resolve": {"axis": {"x": "independent"}}
},
{
  "spacing": 37,
  "resolve": {"scale": {"color": "independent", "strokeDash": "independent"}, "legend": {"color": "independent", "strokeDash": "independent"}},
  "hconcat": [
  {
    "width": 296, "height": 274,
    "view": {"fill": "white", "stroke": "#000", "strokeWidth": 1},
    "title": {"text": "(a) ROE 1-year forward (1)", "subtitle": "(percentage points)"},
    "data": {"name": "a"},
    "encoding": {
      "color": {"field": "s", "type": "nominal", "scale": {"domain": ["Italy", "Euro area"], "range": ["#000000", "#2157a8"]},
        "legend": {"orient": "none", "legendX": 25, "legendY": 329, "direction": "horizontal", "title": null, "symbolType": "stroke", "symbolSize": 529, "symbolStrokeWidth": 2.5, "columnPadding": 55, "labelOffset": 3}}
    },
    "layer": [
      {"transform": [{"filter": "datum.s == 'Euro area'"}],
       "mark": {"type": "line", "interpolate": "step-after", "strokeWidth": 2.5},
       "encoding": {
         "x": {"field": "d", "type": "temporal", "scale": {"domain": [{"year": 2020, "month": 1, "date": 1}, {"year": 2024, "month": 11, "date": 30}]},
               "axis": {"orient": "bottom", "title": null, "labels": false, "domain": false, "ticks": true, "tickCount": {"interval": "month", "step": 1}, "tickSize": -5, "tickColor": "#000", "tickWidth": 1, "grid": true, "gridColor": "#000", "gridWidth": 1, "gridOpacity": {"condition": {"test": "month(datum.value) == 0", "value": 1}, "value": 0}}},
         "y": {"field": "v", "type": "quantitative", "scale": {"domain": [2, 16], "nice": false, "zero": false},
               "axis": {"orient": "right", "title": null, "values": [2, 4, 6, 8, 10, 12, 14, 16], "labelAlign": "center", "labelPadding": 29}}
       }},
      {"transform": [{"filter": "datum.s == 'Italy'"}],
       "mark": {"type": "line", "interpolate": "step-after", "strokeWidth": 2.5},
       "encoding": {
         "x": {"field": "d", "type": "temporal", "scale": {"domain": [{"year": 2020, "month": 1, "date": 1}, {"year": 2024, "month": 11, "date": 30}]},
               "axis": {"orient": "bottom", "title": null, "values": [{"year": 2020, "month": 7, "date": 1}, {"year": 2021, "month": 7, "date": 1}, {"year": 2022, "month": 7, "date": 1}, {"year": 2023, "month": 7, "date": 1}, {"year": 2024, "month": 7, "date": 1}], "format": "%Y", "ticks": true, "tickSize": -10, "tickColor": "#000", "tickWidth": 1, "labelPadding": 22, "labelFlush": false, "labelOverlap": false, "domain": false, "grid": false}},
         "y": {"field": "v", "type": "quantitative", "scale": {"domain": [2, 16], "nice": false, "zero": false},
               "axis": {"orient": "left", "title": null, "values": [2, 4, 6, 8, 10, 12, 14, 16], "labelPadding": 11, "minExtent": 32, "grid": true, "gridColor": "#6f6f6f", "gridDash": [1, 2], "gridOpacity": {"condition": {"test": "datum.value > 2 && datum.value < 16", "value": 1}, "value": 0}}}
       }}
    ],
    "resolve": {"axis": {"x": "independent", "y": "independent"}}
  },
  {
    "width": 296, "height": 274,
    "view": {"fill": "white", "stroke": "#000", "strokeWidth": 1},
    "title": {"text": "(b) Price-to-book ratio (2)", "subtitle": " "},
    "data": {"name": "b"},
    "encoding": {
      "color": {"field": "s", "type": "nominal", "scale": {"domain": ["Italy", "Euro area", "10ᵗʰ percentile (euro area)", "90ᵗʰ percentile (euro area)"], "range": ["#000000", "#2157a8", "#7a7a7a", "#7a7a7a"]},
        "legend": {"orient": "none", "legendX": 30, "legendY": 308, "direction": "vertical", "title": null, "symbolType": "stroke", "symbolSize": 841, "symbolStrokeWidth": 2, "clipHeight": 16, "rowPadding": 4, "labelOffset": 4}},
      "strokeDash": {"field": "s", "type": "nominal", "scale": {"domain": ["Italy", "Euro area", "10ᵗʰ percentile (euro area)", "90ᵗʰ percentile (euro area)"], "range": [[1, 0], [1, 0], [1.5, 2.5], [1.5, 2.5]]},
        "legend": {"orient": "none", "legendX": 30, "legendY": 308, "direction": "vertical", "title": null, "symbolType": "stroke", "symbolSize": 841, "symbolStrokeWidth": 2, "clipHeight": 16, "rowPadding": 4, "labelOffset": 4}}
    },
    "layer": [
      {"transform": [{"filter": "indexof(datum.s, 'percentile') >= 0"}],
       "mark": {"type": "line", "strokeWidth": 1.6},
       "encoding": {
         "x": {"field": "d", "type": "temporal", "scale": {"domain": [{"year": 2020, "month": 1, "date": 1}, {"year": 2024, "month": 11, "date": 30}]}, "axis": null},
         "y": {"field": "v", "type": "quantitative", "scale": {"domain": [0, 1.4], "nice": false, "zero": false}, "axis": null}
       }},
      {"transform": [{"filter": "datum.s == 'Euro area'"}],
       "mark": {"type": "line", "strokeWidth": 2.5},
       "encoding": {
         "x": {"field": "d", "type": "temporal", "scale": {"domain": [{"year": 2020, "month": 1, "date": 1}, {"year": 2024, "month": 11, "date": 30}]},
               "axis": {"orient": "bottom", "title": null, "labels": false, "domain": false, "ticks": true, "tickCount": {"interval": "month", "step": 1}, "tickSize": -5, "tickColor": "#000", "tickWidth": 1, "grid": true, "gridColor": "#000", "gridWidth": 1, "gridOpacity": {"condition": {"test": "month(datum.value) == 0", "value": 1}, "value": 0}}},
         "y": {"field": "v", "type": "quantitative", "scale": {"domain": [0, 1.4], "nice": false, "zero": false},
               "axis": {"orient": "right", "title": null, "values": [0, 0.2, 0.4, 0.6, 0.8, 1.0, 1.2, 1.4], "format": ".1f", "labelAlign": "center", "labelPadding": 22}}
       }},
      {"transform": [{"filter": "datum.s == 'Italy'"}],
       "mark": {"type": "line", "strokeWidth": 2.5},
       "encoding": {
         "x": {"field": "d", "type": "temporal", "scale": {"domain": [{"year": 2020, "month": 1, "date": 1}, {"year": 2024, "month": 11, "date": 30}]},
               "axis": {"orient": "bottom", "title": null, "values": [{"year": 2020, "month": 7, "date": 1}, {"year": 2021, "month": 7, "date": 1}, {"year": 2022, "month": 7, "date": 1}, {"year": 2023, "month": 7, "date": 1}, {"year": 2024, "month": 7, "date": 1}], "format": "%Y", "ticks": true, "tickSize": -10, "tickColor": "#000", "tickWidth": 1, "labelPadding": 22, "labelFlush": false, "labelOverlap": false, "domain": false, "grid": false}},
         "y": {"field": "v", "type": "quantitative", "scale": {"domain": [0, 1.4], "nice": false, "zero": false},
               "axis": {"orient": "left", "title": null, "values": [0, 0.2, 0.4, 0.6, 0.8, 1.0, 1.2, 1.4], "format": ".1f", "labelPadding": 13, "grid": true, "gridColor": "#6f6f6f", "gridDash": [1, 2], "gridOpacity": {"condition": {"test": "datum.value > 0.01 && datum.value < 1.39", "value": 1}, "value": 0}}}
       }}
    ],
    "resolve": {"axis": {"x": "independent", "y": "independent"}}
  },
  {
    "width": 296, "height": 274,
    "view": {"fill": "white", "stroke": "#000", "strokeWidth": 1},
    "title": {"text": "(c) CDS spreads (3)", "subtitle": "(basis points)"},
    "data": {"name": "c"},
    "encoding": {
      "color": {"field": "s", "type": "nominal", "scale": {"domain": ["Italy", "Euro area"], "range": ["#000000", "#2157a8"]},
        "legend": {"orient": "none", "legendX": 15, "legendY": 328, "direction": "horizontal", "title": null, "symbolType": "stroke", "symbolSize": 529, "symbolStrokeWidth": 2.5, "columnPadding": 64, "labelOffset": 4}}
    },
    "layer": [
      {"transform": [{"filter": "datum.s == 'Euro area'"}],
       "mark": {"type": "line", "strokeWidth": 2.5},
       "encoding": {
         "x": {"field": "d", "type": "temporal", "scale": {"domain": [{"year": 2020, "month": 1, "date": 1}, {"year": 2024, "month": 11, "date": 30}]},
               "axis": {"orient": "bottom", "title": null, "labels": false, "domain": false, "ticks": true, "tickCount": {"interval": "month", "step": 1}, "tickSize": -5, "tickColor": "#000", "tickWidth": 1, "grid": true, "gridColor": "#000", "gridWidth": 1, "gridOpacity": {"condition": {"test": "month(datum.value) == 0", "value": 1}, "value": 0}}},
         "y": {"field": "v", "type": "quantitative", "scale": {"domain": [0, 280], "nice": false, "zero": false},
               "axis": {"orient": "right", "title": null, "values": [0, 40, 80, 120, 160, 200, 240, 280], "labelAlign": "center", "labelPadding": 31}}
       }},
      {"transform": [{"filter": "datum.s == 'Italy'"}],
       "mark": {"type": "line", "strokeWidth": 2.5},
       "encoding": {
         "x": {"field": "d", "type": "temporal", "scale": {"domain": [{"year": 2020, "month": 1, "date": 1}, {"year": 2024, "month": 11, "date": 30}]},
               "axis": {"orient": "bottom", "title": null, "values": [{"year": 2020, "month": 7, "date": 1}, {"year": 2021, "month": 7, "date": 1}, {"year": 2022, "month": 7, "date": 1}, {"year": 2023, "month": 7, "date": 1}, {"year": 2024, "month": 7, "date": 1}], "format": "%Y", "ticks": true, "tickSize": -10, "tickColor": "#000", "tickWidth": 1, "labelPadding": 22, "labelFlush": false, "labelOverlap": false, "domain": false, "grid": false}},
         "y": {"field": "v", "type": "quantitative", "scale": {"domain": [0, 280], "nice": false, "zero": false},
               "axis": {"orient": "left", "title": null, "values": [0, 40, 80, 120, 160, 200, 240, 280], "labelPadding": 13, "minExtent": 55, "grid": true, "gridColor": "#6f6f6f", "gridDash": [1, 2], "gridOpacity": {"condition": {"test": "datum.value > 0 && datum.value < 280", "value": 1}, "value": 0}}}
       }}
    ],
    "resolve": {"axis": {"x": "independent", "y": "independent"}}
  }
  ]
}
]
}
